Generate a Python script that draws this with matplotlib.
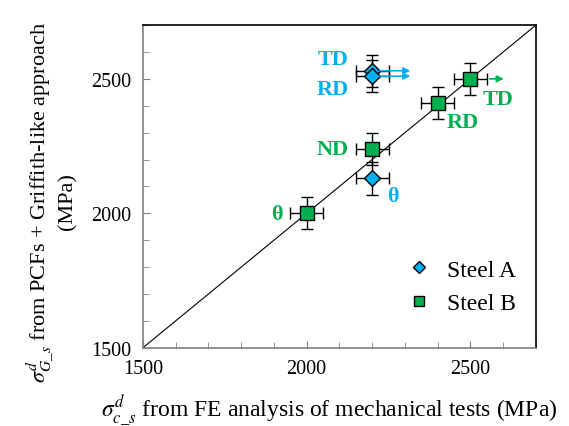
import matplotlib
matplotlib.use("Agg")
import matplotlib.pyplot as plt
from matplotlib.ticker import MultipleLocator

plt.rcParams["font.family"] = ["Liberation Serif", "DejaVu Serif"]
plt.rcParams["mathtext.fontset"] = "stix"

# Steel A: TD, RD, theta
a_x = [2200, 2200, 2200]
a_y = [2530, 2510, 2130]
a_labels = ["TD", "RD", "θ"]
# Steel B: TD, RD, ND, theta
b_x = [2500, 2400, 2200, 2000]
b_y = [2500, 2410, 2240, 2000]
b_labels = ["TD", "RD", "ND", "θ"]
x_err = 50
y_err = 60

blue = "#00b0f0"
green = "#00b050"

fig = plt.figure(figsize=(5.69, 4.27), dpi=100)
ax = fig.add_axes([0.251, 0.183, 0.691, 0.756])

ax.plot([1500, 2700], [1500, 2700], color="black", lw=0.8, zorder=1)

ax.errorbar(a_x, a_y, xerr=x_err, yerr=y_err, fmt="none", ecolor="black",
            elinewidth=1.0, capsize=4.5, capthick=1.0, zorder=2)
ax.errorbar(b_x, b_y, xerr=x_err, yerr=y_err, fmt="none", ecolor="black",
            elinewidth=1.0, capsize=4.5, capthick=1.0, zorder=2)
ax.plot(a_x, a_y, "D", color=blue, mec="black", mew=1.0, ms=8, zorder=3,
        label="Steel A")
ax.plot(b_x, b_y, "s", color=green, mec="black", mew=1.0, ms=10, zorder=3,
        label="Steel B")

# lower-bound arrows (TD/RD of steel A, TD of steel B)
for y in a_y[:2]:
    ax.annotate("", xy=(2325, y), xytext=(2215, y),
                arrowprops=dict(arrowstyle="-|>", color=blue, lw=1.2,
                                mutation_scale=10), zorder=4)
ax.annotate("", xy=(2610, b_y[0]), xytext=(2550, b_y[0]),
            arrowprops=dict(arrowstyle="-|>", color=green, lw=1.2,
                            mutation_scale=10), zorder=4)

lab_kw = dict(fontsize=16, fontweight="bold", ha="center", va="center")
a_pos = [(2080, 2572), (2080, 2462), (2263, 2065)]
for (px, py), t in zip(a_pos, a_labels):
    ax.text(px, py, t, color=blue, **lab_kw)
b_pos = [(2585, 2425), (2477, 2340), (2080, 2239), (1909, 1998)]
for (px, py), t in zip(b_pos, b_labels):
    ax.text(px, py, t, color=green, **lab_kw)

ax.set_xlim(1500, 2700)
ax.set_ylim(1500, 2700)
ax.xaxis.set_major_locator(MultipleLocator(500))
ax.yaxis.set_major_locator(MultipleLocator(500))
ax.xaxis.set_minor_locator(MultipleLocator(100))
ax.yaxis.set_minor_locator(MultipleLocator(100))
ax.tick_params(which="both", direction="in", color="#808080", labelsize=14.5,
               top=False, right=False)
ax.tick_params(which="major", length=5, pad=8)
ax.tick_params(which="minor", length=4)
ax.spines["left"].set_color("#808080")
ax.spines["bottom"].set_color("#808080")
for s in ax.spines.values():
    s.set_linewidth(1.2)

ax.set_xlabel(r"$\sigma^{d}_{c\_s}$ from FE analysis of mechanical tests (MPa)",
              fontsize=17, labelpad=10)
ax.xaxis.set_label_coords(0.475, -0.14)
ax.set_ylabel(r"$\sigma^{d}_{G\_s}$ from PCFs + Griffith-like approach" + "\n(MPa)",
              fontsize=16, labelpad=10, linespacing=1.25)
ax.yaxis.set_label_coords(-0.165, 0.455)

ax.legend(loc="center left", bbox_to_anchor=(0.618, 0.19), frameon=False,
          fontsize=17, handlelength=1.0, handletextpad=0.68, labelspacing=0.5,
          markerscale=0.75)

fig.savefig("out.png", dpi=100)
